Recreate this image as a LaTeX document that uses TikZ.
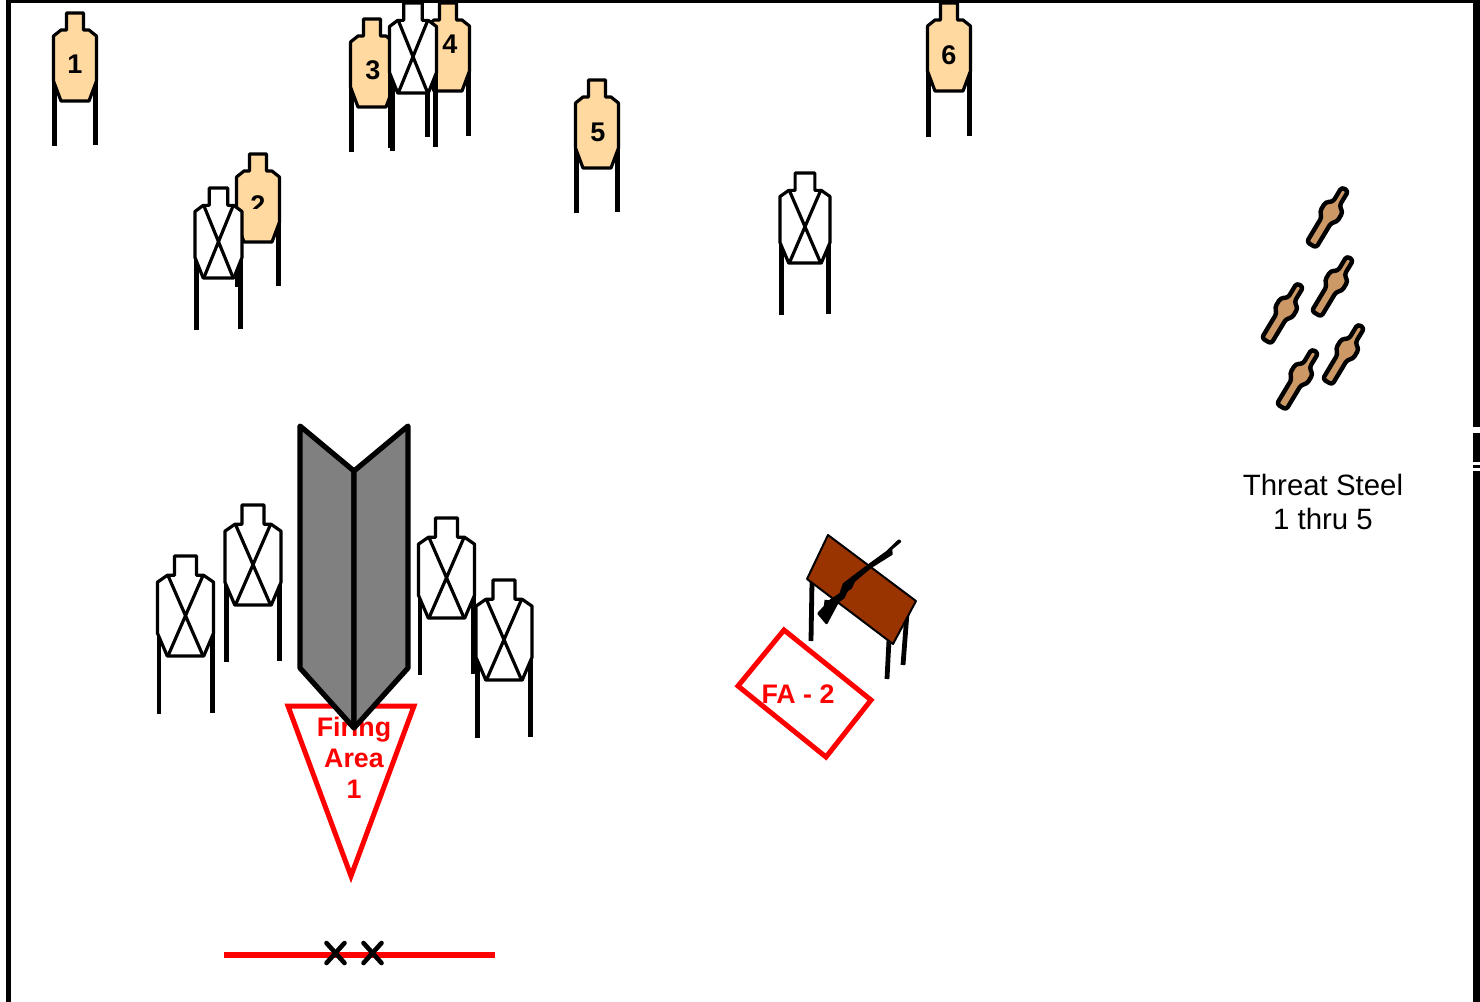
\documentclass[tikz,border=0pt]{standalone}
\usepackage{fontspec}
\setmainfont{Liberation Sans}
\usepackage{xcolor}
\definecolor{Paper}{HTML}{FFD9A0}
\definecolor{Steel}{HTML}{CC9966}
\definecolor{Wood}{HTML}{993300}
\definecolor{Wall}{HTML}{808080}
\definecolor{Zone}{HTML}{FF0000}
\tikzset{
  outline/.style={draw=black,line width=1.6pt,line join=round},
  hostage/.style={outline,fill=white},
  threat/.style={outline,fill=Paper},
  stand/.style={draw=black,line width=2.4pt},
  cross/.style={draw=black,line width=1.6pt},
  wall/.style={draw=black,fill=Wall,line width=2.6pt,line join=round},
  popper/.style={draw=black,fill=Steel,line width=2.2pt,line join=round,rounded corners=1.5pt},
  zone/.style={draw=Zone,line width=2.5pt,line join=miter},
  zonetext/.style={text=Zone,font=\fontsize{13.4}{15.5}\selectfont\bfseries,align=center,inner sep=0pt},
  number/.style={text=black,font=\fontsize{13.5}{15}\selectfont\bfseries,inner sep=0pt},
  caption/.style={text=black,font=\fontsize{14.7}{17}\selectfont,align=center,inner sep=0pt}
}
% fill style, centre x, top y, half width, body height, foot y
\newcommand{\Target}[6]{
  \draw[stand] ({#2-.95*#4},{#3+.72*#5}) -- ({#2-.95*#4},#6);
  \draw[stand] ({#2+.95*#4},{#3+.72*#5}) -- ({#2+.95*#4},{#6-1});
  \draw[#1,shift={(#2,#3)},xscale=#4/21.5,yscale=#5/88]
    (-8.5,0) -- (8.5,0) -- (8.5,17) -- (14,17) -- (21.5,23) -- (21.5,68) -- (14,88)
    -- (-14,88) -- (-21.5,68) -- (-21.5,23) -- (-14,17) -- (-8.5,17) -- cycle;
}
\newcommand{\Cross}[4]{
  \draw[cross,shift={(#1,#2)},xscale=#3/21.5,yscale=#4/88]
    (-13.5,17) -- (13.5,88) (13.5,17) -- (-13.5,88);
}
\begin{document}
\begin{tikzpicture}[x=.5pt,y=-.5pt]
  \useasboundingbox (0,0) rectangle (1480,1002);
  % range frame
  \fill[black] (6,0) rectangle (11,1002);
  \fill[black] (6,0) rectangle (1480,3);
  \fill[black] (1473,0) rectangle (1480,427);
  \fill[black] (1473,433) rectangle (1480,462);
  \fill[black] (1473,465) rectangle (1480,468);
  \fill[black] (1473,471) rectangle (1480,1002);
  % paper threats
  \foreach \cx/\top/\foot/\tx/\ty/\num in {75/13/146/75/64/1,448/3/137/450/44/4,372/19/152/373/70/3,597/80/213/598/132/5,949/3/137/949/55/6}{
    \Target{threat}{\cx}{\top}{21.5}{88}{\foot}
    \node[number] (num\num) at (\tx,\ty) {\num};
  }
  \Target{threat}{258}{154}{21.5}{88}{287}
  \begin{scope}
    \clip (245,190) rectangle (272,208);
    \node[number] (num2) at (258,205) {2};
  \end{scope}
  % no-shoots
  \foreach \cx/\top/\hw/\ht/\foot in {413/3/23.5/90/148,218.5/188/23.5/90/330,805/173/25/90/315,185.5/556/28/100/714,253/505/28/100/662,446.5/518/28/100/675,504/580/28/100/738}{
    \Target{hostage}{\cx}{\top}{\hw}{\ht}{\foot}
    \Cross{\cx}{\top}{\hw}{\ht}
  }
  % firing area 1
  \draw[zone] (288,706) -- (414,706) -- (351,876) -- cycle;
  \node[zonetext] (fa1) at (354,757.5) {Firing\\Area\\1};
  \draw[wall] (300,426) -- (354,471) -- (354,728) -- (300,668) -- cycle;
  \draw[wall] (408,426) -- (354,471) -- (354,728) -- (408,668) -- cycle;
  % fault line and feet
  \draw[draw=Zone,line width=2.6pt] (224,955) -- (495,955);
  \foreach \fx in {335.5,372.5}{
    \draw[black,line width=2.3pt,line cap=round] (\fx-9,943) -- (\fx+9,963) (\fx+9,943) -- (\fx-9,963);
  }
  % table and shotgun
  \draw[stand] (827,600) -- (825,616);
  \draw[stand] (907,613) -- (903,665);
  \draw[stand] (812,582) -- (811,641);
  \draw[stand] (889,640) -- (887,679);
  \draw[draw=black,fill=Wood,line width=1pt,line join=round] (828,535) -- (916,601) -- (893,644) -- (807,579) -- cycle;
  \filldraw[black,line width=1.2pt,line join=round] (899,540.5) -- (900,541.5) -- (891,549) -- (891.5,554) -- (870,567.5) -- (854,581) -- (851,587.5)
    -- (846.5,591) -- (843.5,597.5) -- (838,601.5) -- (826.5,623) -- (818.5,613.5) -- (830.5,600.5) -- (840.5,594)
    -- (844,584) -- (867,566.5) -- (887,552) -- cycle;
  % firing area 2
  \draw[zone] (784,630) -- (871,700) -- (826,757) -- (738,686) -- cycle;
  \node[zonetext] (fa2) at (798,694) {FA - 2};
  % steel
  \foreach \bx/\by in {1312/244,1317/313,1267/340,1282/406,1328/381}{
    \draw[popper,shift={(\bx,\by)},rotate=59]
      (-1,-5.5) -- (28,-5.5) -- (32,-10) -- (43,-10) -- (47,-3.8) -- (64,-3.8) -- (64,3.8) -- (47,3.8) -- (43,10) -- (32,10) -- (28,5.5) -- (-1,5.5) -- cycle;
  }
  \node[caption] (steel) at (1323,502) {Threat Steel\\1 thru 5};
\end{tikzpicture}
\end{document}
